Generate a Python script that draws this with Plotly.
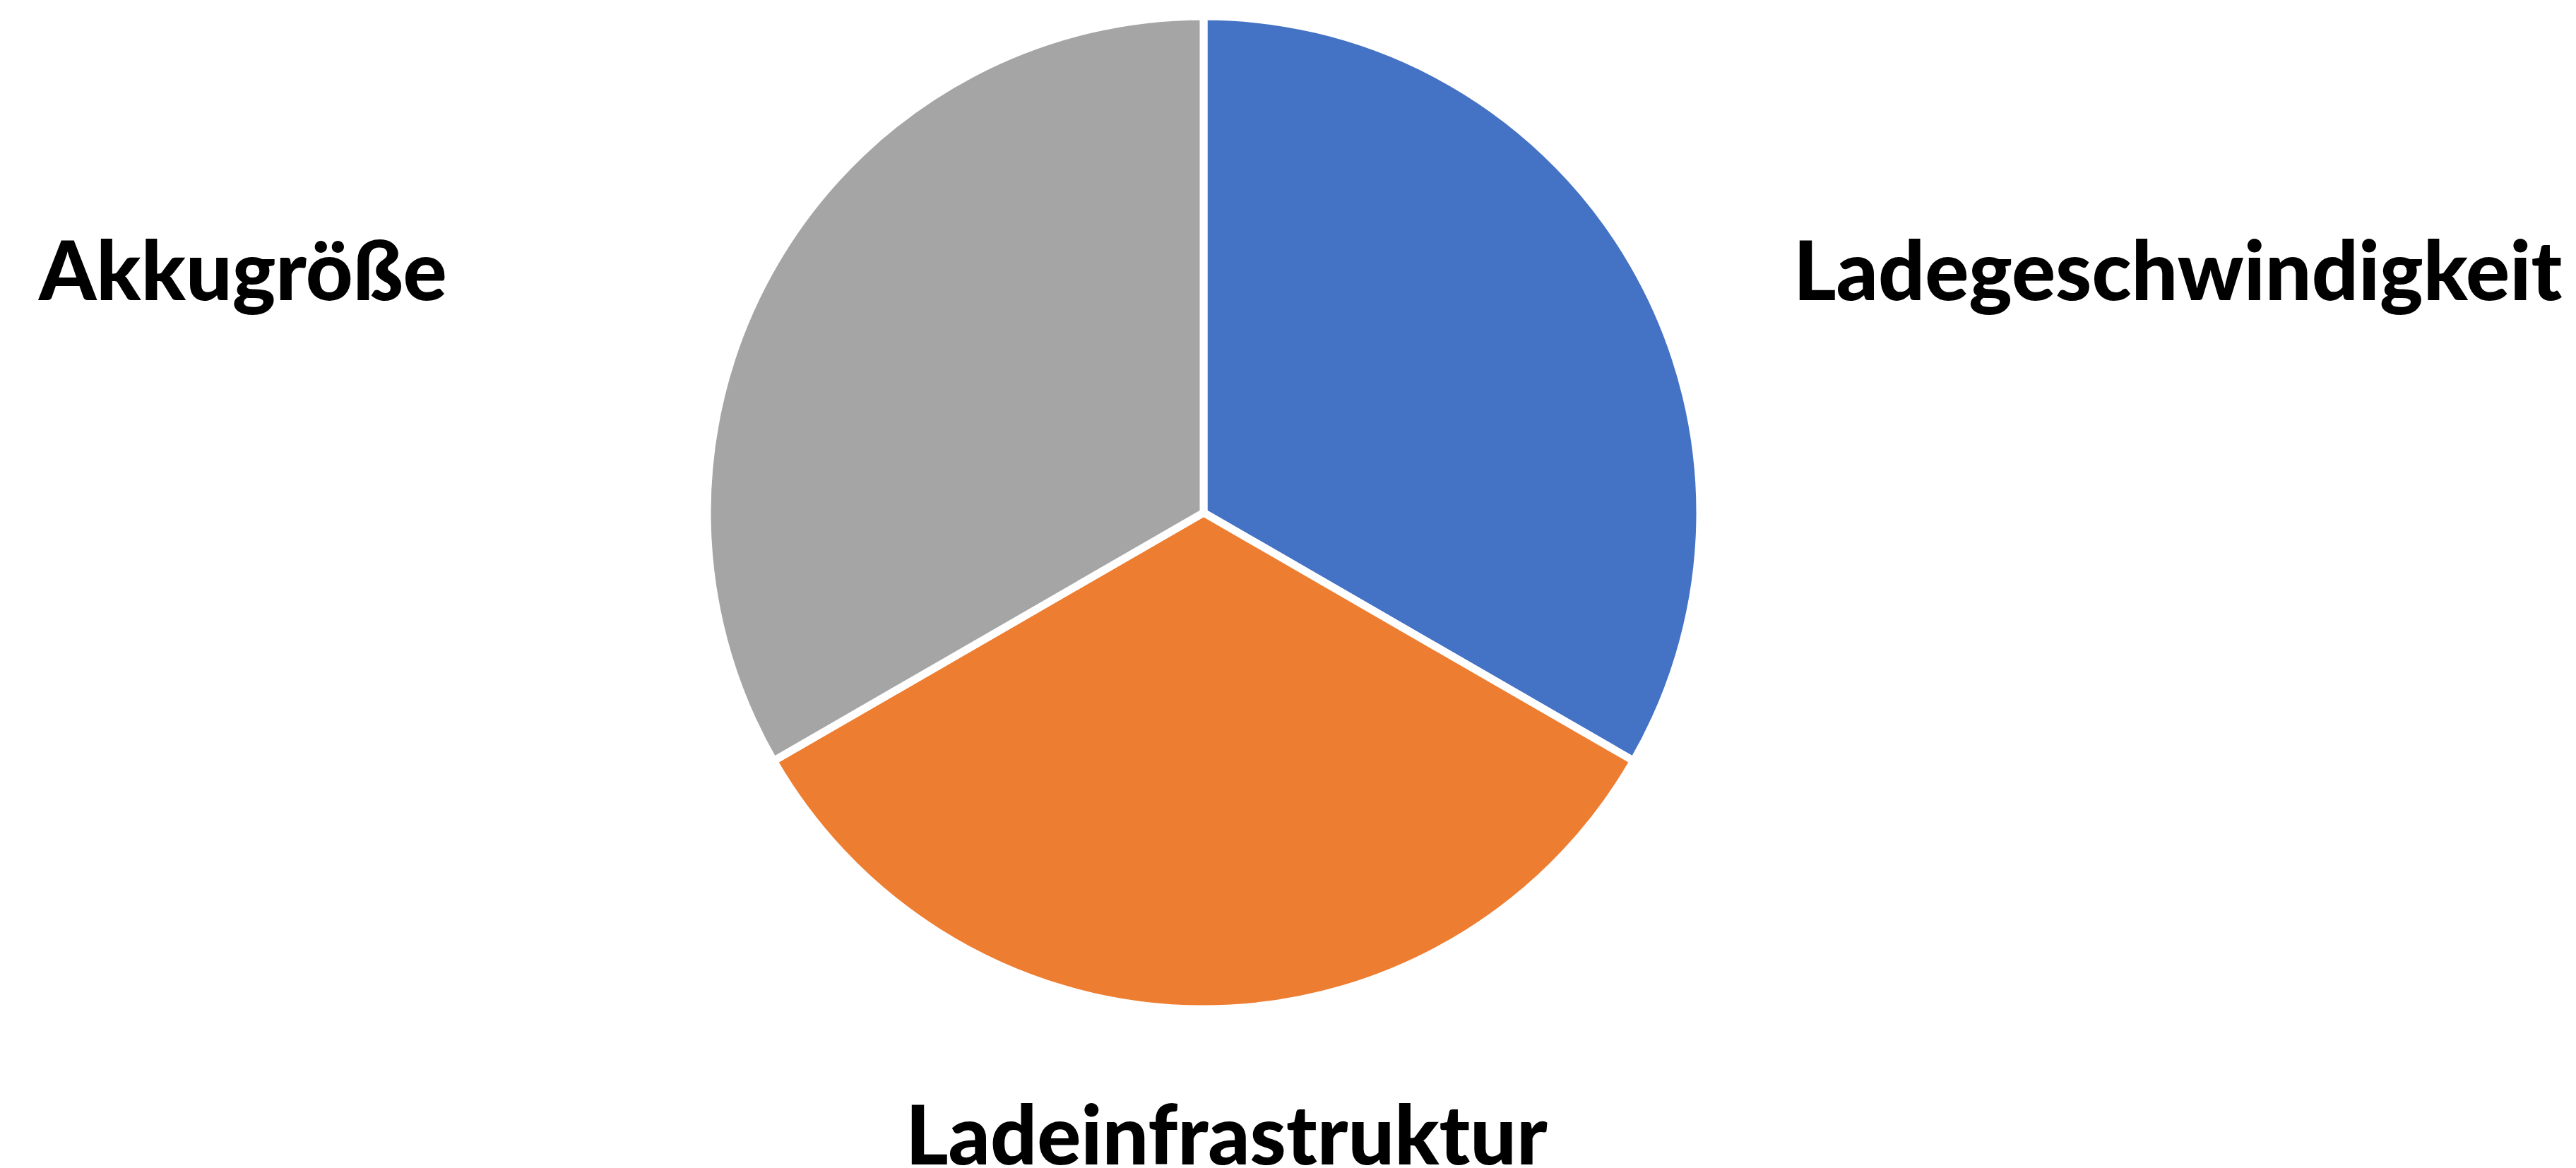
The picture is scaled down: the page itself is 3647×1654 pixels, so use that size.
import plotly.graph_objects as go

W, H = 3647, 1654

labels = ["Ladegeschwindigkeit", "Ladeinfrastruktur", "Akkugröße"]
values = [1, 1, 1]
colors = ["#4472C4", "#ED7D31", "#A5A5A5"]

# label anchor positions (pixels in the reference)
label_px = [(3075, 372), (1728, 1596), (335, 372)]

cx, cy, r = 1696, 718, 703

fig = go.Figure(go.Pie(
    labels=labels,
    values=values,
    sort=False,
    direction="clockwise",
    rotation=0,
    textinfo="none",
    hoverinfo="label",
    marker=dict(colors=colors, line=dict(color="white", width=11)),
    domain=dict(x=[(cx - r) / W, (cx + r) / W], y=[1 - (cy + r) / H, 1 - (cy - r) / H]),
    showlegend=False,
))

for lab, (px, py) in zip(labels, label_px):
    fig.add_annotation(
        x=px / W, y=1 - py / H, xref="paper", yref="paper",
        text=lab, showarrow=False, xanchor="center", yanchor="middle",
        font=dict(family="Lato", size=116, color="black", weight=900),
    )

fig.update_layout(
    width=W, height=H,
    margin=dict(l=0, r=0, t=0, b=0),
    paper_bgcolor="white", plot_bgcolor="white",
)

fig.write_html("out.html")
